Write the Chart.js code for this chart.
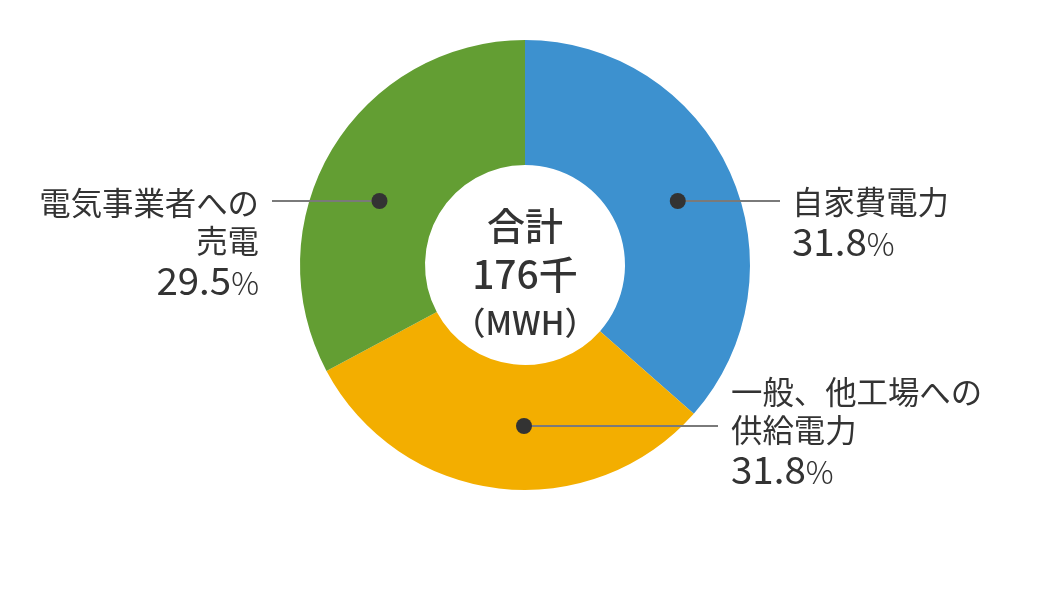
<!DOCTYPE html>
<html>
<head>
<meta charset="utf-8">
<script src="https://cdn.jsdelivr.net/npm/chart.js@4.4.1/dist/chart.umd.min.js"></script>
<style>
  body { margin: 0; background: #fff; font-family: "Noto Sans CJK JP", "Noto Sans", sans-serif; color: #333; }
  #wrap { position: relative; width: 1050px; height: 590px; }
  #wrap canvas { position: absolute; left: 0; top: 0; }
  .line { position: absolute; white-space: nowrap; line-height: 1; font-size: 31.4px; font-weight: 400; }
  .num { font-size: 38.5px; }
  .num span { font-size: 31px; font-weight: 300; }
  .center { position: absolute; left: 405px; width: 240px; text-align: center; line-height: 1; font-weight: 500; }
</style>
</head>
<body>
<div id="wrap">
  <canvas id="pie" width="1050" height="590"></canvas>
  <div id="labels"></div>
</div>
<script>
// slice sizes as drawn, label texts as printed
const categories = ['自家費電力', '一般、他工場への供給電力', '電気事業者への売電'];
const shares = [36.5, 30.7, 32.8];
const percentLabels = ['31.8', '31.8', '29.5'];
const colors = ['#3d91cf', '#f3ae00', '#639e33'];
const labelLines = [['自家費電力'], ['一般、他工場への', '供給電力'], ['電気事業者への', '売電']];
const totalLines = ['合計', '176千', '（MWH）'];

// where the dot sits inside each slice (0..1 along the arc, 0..1 across the ring)
// and where its leader line ends
const anchorFrac = [0.512, 0.443, 0.4375];
const anchorRing = [0.525, 0.49, 0.47];
const leaderEndX = [780, 718, 272];

const leaderPlugin = {
  id: 'leaders',
  afterDatasetsDraw(chart) {
    const ctx = chart.ctx;
    chart.getDatasetMeta(0).data.forEach((arc, i) => {
      const p = arc.getProps(['x', 'y', 'startAngle', 'endAngle', 'innerRadius', 'outerRadius'], true);
      const a = p.startAngle + anchorFrac[i] * (p.endAngle - p.startAngle);
      const r = p.innerRadius + anchorRing[i] * (p.outerRadius - p.innerRadius);
      const x = p.x + Math.cos(a) * r;
      const y = Math.round(p.y + Math.sin(a) * r);
      ctx.save();
      ctx.strokeStyle = '#7a7a7a';
      ctx.lineWidth = 2;
      ctx.beginPath();
      ctx.moveTo(x, y);
      ctx.lineTo(leaderEndX[i], y);
      ctx.stroke();
      ctx.fillStyle = '#333';
      ctx.beginPath();
      ctx.arc(x, y, 8, 0, Math.PI * 2);
      ctx.fill();
      ctx.restore();
    });
  }
};

new Chart(document.getElementById('pie'), {
  type: 'doughnut',
  data: {
    labels: categories,
    datasets: [{
      data: shares,
      backgroundColor: colors,
      borderWidth: 0,
      hoverOffset: 0
    }]
  },
  options: {
    responsive: false,
    animation: false,
    cutout: 100,
    layout: { padding: { top: 40, bottom: 100 } },
    plugins: {
      legend: { display: false },
      tooltip: { enabled: false }
    }
  },
  plugins: [leaderPlugin]
});

// text blocks: left or right edge, top of first line, alignment
const labelPos = [
  { x: 792, y: 185, align: 'left' },
  { x: 731, y: 375, align: 'left' },
  { x: 259, y: 186, align: 'right' }
];
const lineGap = 38;
const holder = document.getElementById('labels');
labelLines.forEach((lines, i) => {
  const pos = labelPos[i];
  const all = lines.map(t => ({ text: t, num: false }));
  all.push({ text: percentLabels[i], num: true });
  all.forEach((item, k) => {
    const d = document.createElement('div');
    d.className = 'line' + (item.num ? ' num' : '');
    if (item.num) {
      d.innerHTML = item.text + '<span>%</span>';
    } else {
      d.textContent = item.text;
    }
    d.style.top = (pos.y + k * lineGap - (item.num ? 3 : 0)) + 'px';
    if (pos.align === 'left') d.style.left = pos.x + 'px';
    else d.style.right = (1050 - pos.x) + 'px';
    holder.appendChild(d);
  });
});

const centerSizes = [38, 39, 32];
const centerTops = [205, 253, 305];
totalLines.forEach((t, i) => {
  const d = document.createElement('div');
  d.className = 'center';
  d.textContent = t;
  d.style.fontSize = centerSizes[i] + 'px';
  d.style.top = centerTops[i] + 'px';
  holder.appendChild(d);
});
</script>
</body>
</html>
